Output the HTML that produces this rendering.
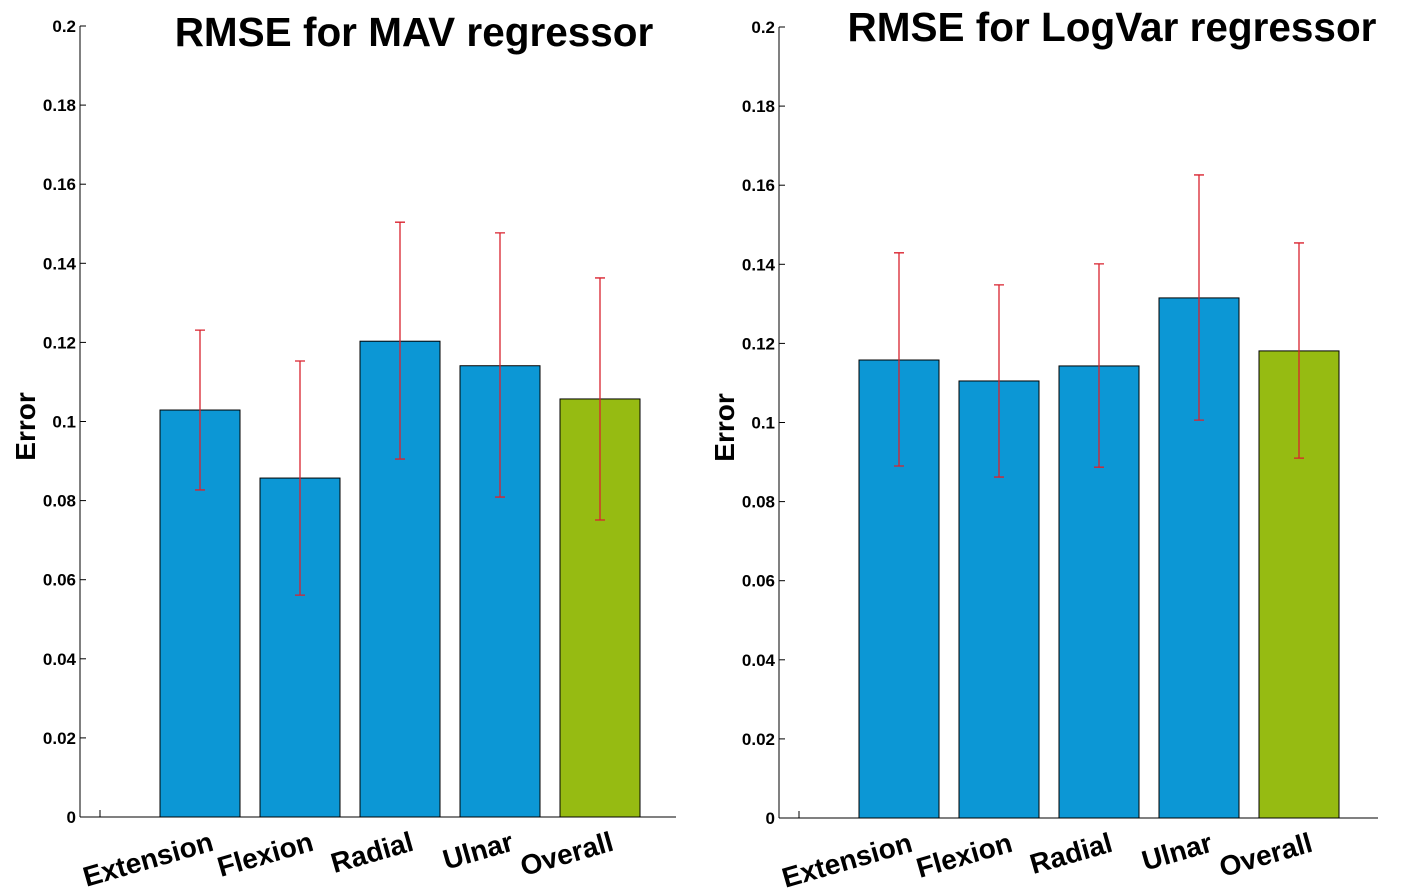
<!DOCTYPE html>
<html><head><meta charset="utf-8"><style>
body{margin:0;background:#fff}
svg{display:block}
text{font-family:"Liberation Sans",sans-serif;font-weight:bold;fill:#000}
</style></head><body>
<svg id="c" width="1426" height="890"></svg>
<script>
const categories=["Extension","Flexion","Radial","Ulnar","Overall"];
const mavValues=[0.1029,0.0857,0.1203,0.1141,0.1057];
const mavUpper=[0.1231,0.1153,0.1504,0.1477,0.1363];
const mavLower=[0.0827,0.0561,0.0905,0.0809,0.0751];
const logValues=[0.1158,0.1105,0.1143,0.1315,0.1181];
const logUpper=[0.1429,0.1348,0.1401,0.1626,0.1454];
const logLower=[0.0890,0.0862,0.0887,0.1006,0.0910];
const yTicks=[0,0.02,0.04,0.06,0.08,0.1,0.12,0.14,0.16,0.18,0.2];
const yTickLabels=["0","0.02","0.04","0.06","0.08","0.1","0.12","0.14","0.16","0.18","0.2"];
const titles=["RMSE for MAV regressor","RMSE for LogVar regressor"];
const NS="http://www.w3.org/2000/svg";
const svg=document.getElementById('c');
function mk(tag,attrs,parent){const e=document.createElementNS(NS,tag);for(const k in attrs)e.setAttribute(k,attrs[k]);(parent||svg).appendChild(e);return e;}
function panel(p,titleCx,x0,y0,y1,right,vals,up,lo){
  const g=mk('g',{});
  
  
  const yS=v=>y0-(y0-y1)*v/0.2;
  const xS=i=>x0+20+100*(i+1);
  const t=mk('text',{x:titleCx,y:p?41:46,'text-anchor':'middle','font-size':40.5},g);t.textContent=titles[p];
  
  
  const yl=mk('text',{transform:`translate(${x0-45},${(y0+y1)/2+5}) rotate(-90)`,'text-anchor':'middle','font-size':28},g);yl.textContent='Error';
  
  
  yTicks.forEach((v,i)=>{
    mk('line',{x1:x0,x2:x0+6,y1:yS(v),y2:yS(v),stroke:'#000','stroke-width':1},g);
    const tl=mk('text',{x:x0-4,y:yS(v)+6,'text-anchor':'end','font-size':17},g);tl.textContent=yTickLabels[i];
    
    
  });
  mk('line',{x1:x0+20,x2:x0+20,y1:y0,y2:y0-7,stroke:'#000'},g);
  vals.forEach((v,i)=>{
    const cx=xS(i);
    const b=mk('rect',{x:cx-40,y:yS(v),width:80,height:y0-yS(v),fill:i==4?'#96bb12':'#0c97d5',stroke:'#000','stroke-width':1},g);
    
    
    const e=mk('path',{d:`M${cx},${yS(up[i])}V${yS(lo[i])}M${cx-5},${yS(up[i])}H${cx+5}M${cx-5},${yS(lo[i])}H${cx+5}`,stroke:'#d9222e','stroke-width':1.3,fill:'none'},g);
    
    
    const xl=mk('text',{transform:`translate(${cx+15},${y0+33}) rotate(-16)`,'text-anchor':'end','font-size':28},g);xl.textContent=categories[i];
    
    
  });
  mk('line',{x1:x0,x2:x0,y1:y0,y2:y1,stroke:'#000'},g);
  mk('line',{x1:x0,x2:right,y1:y0,y2:y0,stroke:'#000'},g);
}
panel(0,414,80,817,26,676,mavValues,mavUpper,mavLower);
panel(1,1112,779,818,27,1378,logValues,logUpper,logLower);
</script>
</body></html>
